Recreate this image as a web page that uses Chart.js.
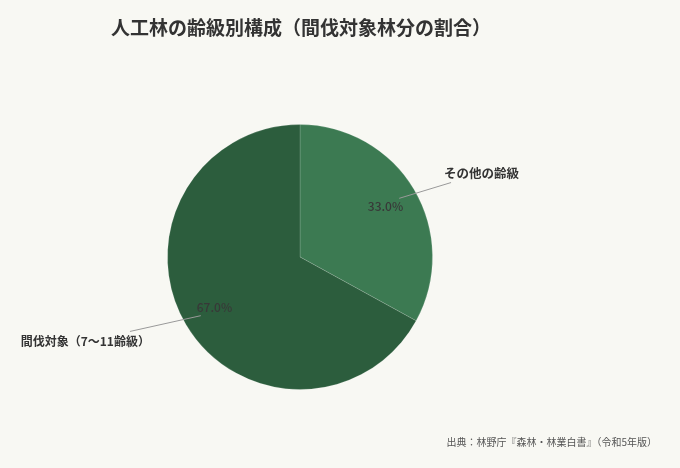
<!DOCTYPE html>
<html><head><meta charset="utf-8">
<script src="https://cdn.jsdelivr.net/npm/chart.js@4"></script>
<style>html,body{margin:0;padding:0;background:#f8f8f3;}#wrap{width:680px;height:468px;position:relative;}</style>
</head><body><div id="wrap"><canvas id="c" width="680" height="468"></canvas></div>
<script>
const categories = ["その他の齢級", "間伐対象（7〜11齢級）"];
const values = [33.0, 67.0];
const colors = ["#3c7a52", "#2c5d3d"];
const titleText = "人工林の齢級別構成（間伐対象林分の割合）";
const sourceText = "出典：林野庁『森林・林業白書』（令和5年版）";
const FONT = '"Noto Sans CJK JP","Noto Sans",sans-serif';

const labelPlugin = {
  id: 'labels',
  afterDatasetsDraw(chart) {
    const ctx = chart.ctx;
    const meta = chart.getDatasetMeta(0);
    const total = values.reduce((a, b) => a + b, 0);
    const cfg = [
      {dx: 37, dy: -7, tx: -7, ty: -9, align: 'left', size: 12.5},
      {dx: -56, dy: 7, tx: 20, ty: 10, align: 'right', size: 12}
    ];
    meta.data.forEach((arc, i) => {
      const p = arc.getProps(['x','y','startAngle','endAngle','outerRadius'], true);
      const mid = (p.startAngle + p.endAngle) / 2;
      const cx = Math.cos(mid), sy = Math.sin(mid);
      const r = p.outerRadius;
      ctx.save();
      ctx.font = '500 12px ' + FONT;
      ctx.fillStyle = '#383838';
      ctx.textAlign = 'center';
      ctx.textBaseline = 'middle';
      ctx.fillText((values[i] / total * 100).toFixed(1) + '%', p.x + cx * r * 0.75, p.y + sy * r * 0.75);
      const sx0 = p.x + cx * r * 0.87, sy0 = p.y + sy * r * 0.87;
      const ox = p.x + cx * r, oy = p.y + sy * r;
      const c = cfg[i];
      const ex = ox + c.dx, ey = oy + c.dy;
      ctx.strokeStyle = '#999';
      ctx.lineWidth = 1;
      ctx.beginPath(); ctx.moveTo(sx0, sy0); ctx.lineTo(ex, ey); ctx.stroke();
      ctx.font = 'bold ' + c.size + 'px ' + FONT;
      ctx.fillStyle = '#333';
      ctx.textAlign = c.align;
      ctx.fillText(categories[i], ex + c.tx, ey + c.ty);
      ctx.restore();
    });
    ctx.save();
    ctx.textBaseline = 'middle';
    ctx.font = 'bold 19px ' + FONT;
    ctx.fillStyle = '#333';
    ctx.textAlign = 'left';
    ctx.fillText(titleText, 111, 28);
    ctx.font = '10px ' + FONT;
    ctx.fillStyle = '#555';
    ctx.textAlign = 'right';
    ctx.fillText(sourceText, 657, 442);
    ctx.restore();
  }
};

new Chart(document.getElementById('c'), {
  type: 'pie',
  data: { labels: categories, datasets: [{ data: values, backgroundColor: colors, borderColor: 'rgba(255,255,255,0.15)', borderWidth: 1 }] },
  options: {
    responsive: false,
    animation: false,
    layout: { padding: { top: 124, bottom: 78, left: 167, right: 247 } },
    plugins: { legend: { display: false }, tooltip: { enabled: false } }
  },
  plugins: [labelPlugin]
});
</script></body></html>
